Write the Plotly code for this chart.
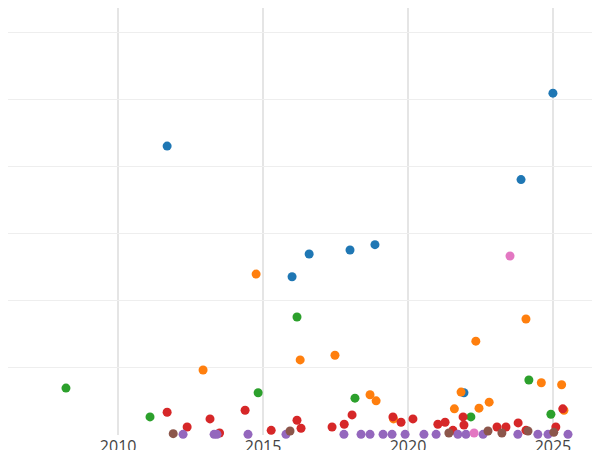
import plotly.graph_objects as go

blue_x=[2011.69,2025.0,2023.9,2016.59,2016.0,2018.0,2018.86,2021.93]
blue_y=[4.31,5.10,3.81,2.70,2.36,2.76,2.84,0.63]
orange_x=[2014.76,2012.93,2016.28,2017.48,2018.69,2018.9,2019.5,2021.6,2021.83,2022.34,2022.45,2022.8,2024.07,2024.6,2025.3,2025.38]
orange_y=[2.40,0.97,1.12,1.19,0.60,0.51,0.24,0.39,0.64,1.40,0.40,0.49,1.73,0.78,0.75,0.37]
green_x=[2008.2,2011.1,2014.83,2016.17,2018.17,2022.17,2024.17,2024.93]
green_y=[0.70,0.27,0.63,1.76,0.55,0.27,0.82,0.31]
red_x=[2011.69,2012.38,2013.17,2013.5,2014.38,2015.28,2016.17,2016.31,2017.38,2017.8,2018.07,2019.48,2019.76,2020.17,2021.03,2021.28,2021.55,2021.9,2021.93,2023.07,2023.38,2023.8,2024.07,2025.1,2025.34]
red_y=[0.34,0.12,0.24,0.03,0.37,0.07,0.22,0.10,0.12,0.16,0.30,0.27,0.19,0.24,0.16,0.19,0.07,0.27,0.15,0.12,0.12,0.18,0.07,0.12,0.39]
purple_x=[2012.24,2013.31,2013.41,2014.48,2015.79,2017.79,2018.38,2018.69,2019.14,2019.45,2019.9,2020.55,2020.97,2021.72,2022.0,2022.59,2023.79,2024.48,2024.83,2025.52]
purple_y=[0.01]*20
brown_x=[2011.9,2015.93,2021.41,2022.76,2023.24,2024.14,2025.03]
brown_y=[0.02,0.06,0.03,0.06,0.03,0.06,0.04]
pink_x=[2023.52,2022.28]
pink_y=[2.67,0.03]

series=[(blue_x,blue_y,'#1f77b4'),(orange_x,orange_y,'#ff7f0e'),(green_x,green_y,'#2ca02c'),
        (red_x,red_y,'#d62728'),(purple_x,purple_y,'#9467bd'),(brown_x,brown_y,'#8c564b'),(pink_x,pink_y,'#e377c2')]
fig=go.Figure()
for x,y,c in series:
    fig.add_trace(go.Scatter(x=x,y=y,mode='markers',marker=dict(color=c,size=9),cliponaxis=False))
fig.update_layout(template='plotly_white',width=600,height=450,showlegend=False,
                  margin=dict(l=0,r=0,t=0,b=23,pad=0,autoexpand=False),
                  xaxis=dict(range=[2006.2,2026.9],tickvals=[2010,2015,2020,2025],automargin=False,
                             tickfont=dict(size=16,color='#444'),zeroline=False,showgrid=True,gridcolor='#e5e5e5',gridwidth=2),
                  yaxis=dict(range=[0,6.37],dtick=1,showticklabels=False,automargin=False,gridcolor='#eeeeee',zeroline=False))
fig.write_html("out.html")
